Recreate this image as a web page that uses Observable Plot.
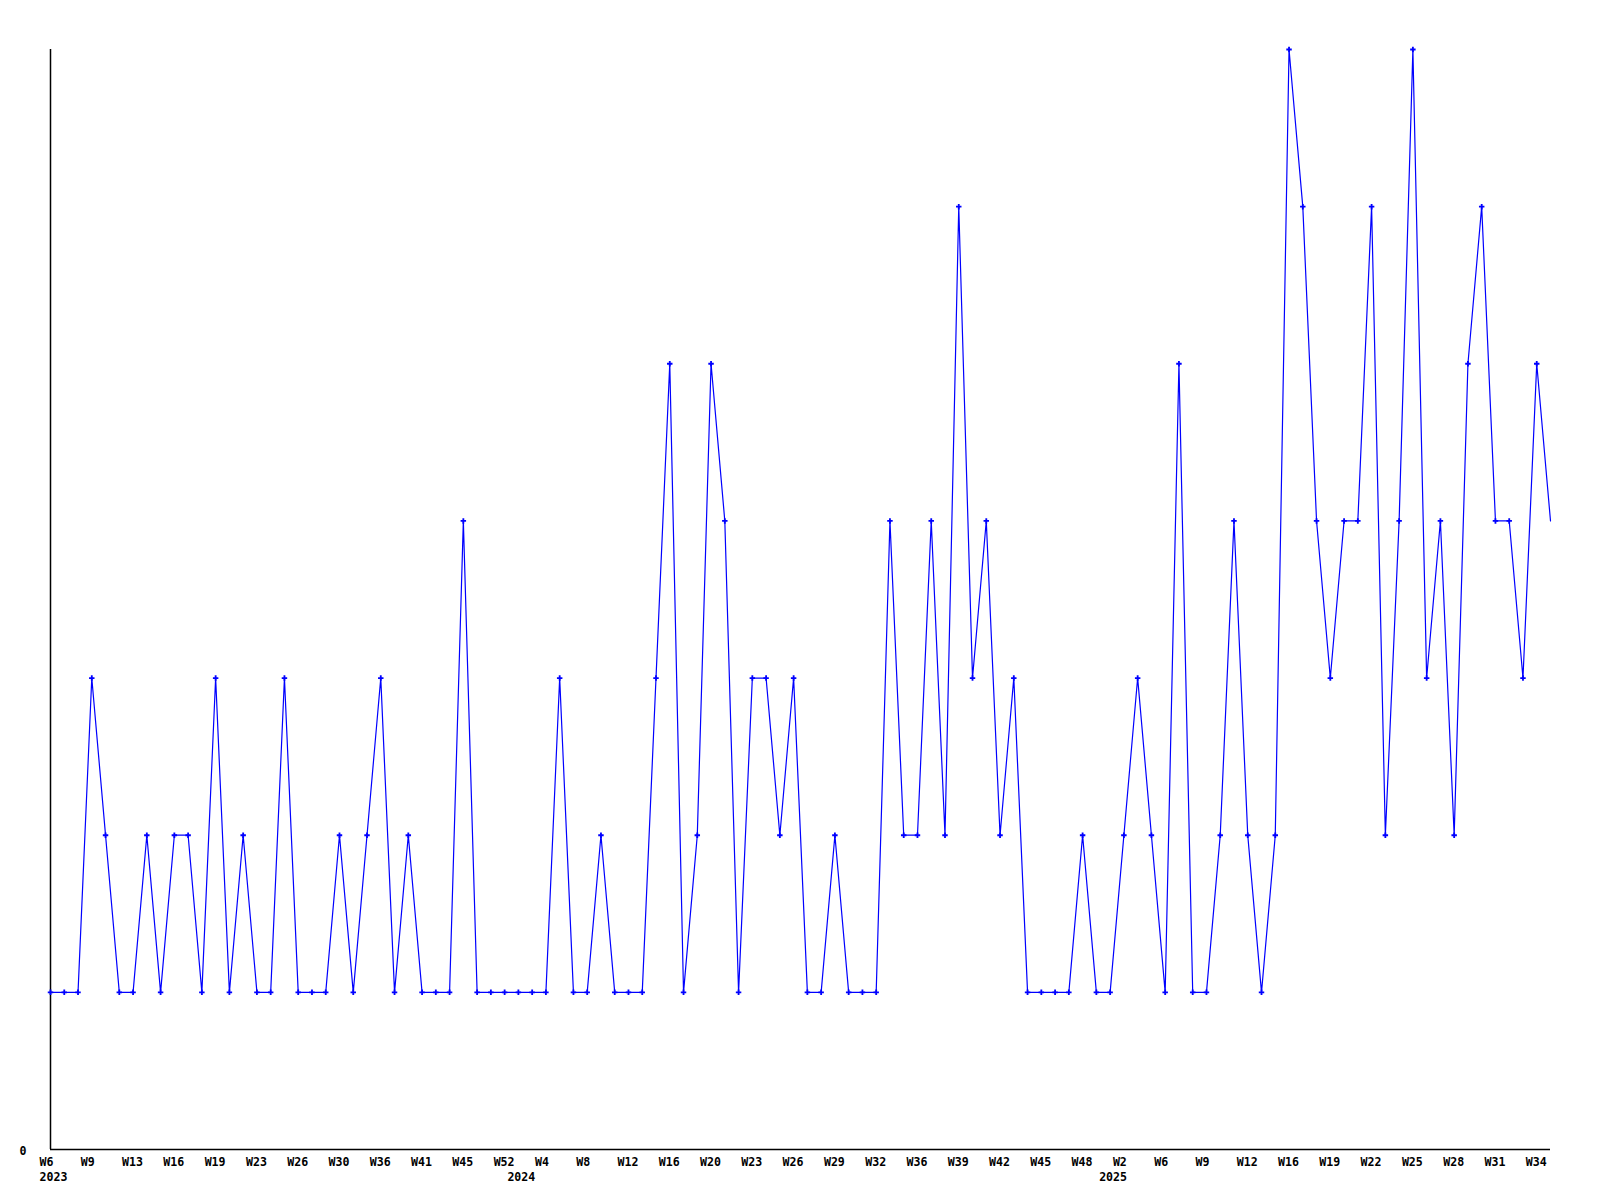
<!DOCTYPE html>
<html>
<head>
<meta charset="utf-8">
<script src="https://cdn.jsdelivr.net/npm/d3@7"></script>
<script src="https://cdn.jsdelivr.net/npm/@observablehq/plot@0.6"></script>
<style>
  html, body { margin: 0; padding: 0; background: #ffffff; }
  #chart svg { display: block; }
</style>
</head>
<body>
<div id="chart"></div>
<script>
// Weeks that have data (weeks without data are absent from the series)
const weekLabels = [
  "2023-W06","2023-W07","2023-W08","2023-W09","2023-W10","2023-W11","2023-W13","2023-W14","2023-W15","2023-W16",
  "2023-W17","2023-W18","2023-W19","2023-W20","2023-W22","2023-W23","2023-W24","2023-W25","2023-W26","2023-W27",
  "2023-W28","2023-W30","2023-W32","2023-W34","2023-W36","2023-W38","2023-W39","2023-W41","2023-W42","2023-W43",
  "2023-W45","2023-W47","2023-W50","2023-W52","2024-W01","2024-W03","2024-W04","2024-W05","2024-W07","2024-W08",
  "2024-W09","2024-W10","2024-W12","2024-W13","2024-W15","2024-W16","2024-W17","2024-W18","2024-W20","2024-W21",
  "2024-W22","2024-W23","2024-W24","2024-W25","2024-W26","2024-W27","2024-W28","2024-W29","2024-W30","2024-W31",
  "2024-W32","2024-W33","2024-W35","2024-W36","2024-W37","2024-W38","2024-W39","2024-W40","2024-W41","2024-W42",
  "2024-W43","2024-W44","2024-W45","2024-W46","2024-W47","2024-W48","2024-W50","2025-W01","2025-W02","2025-W03",
  "2025-W05","2025-W06","2025-W07","2025-W08","2025-W09","2025-W10","2025-W11","2025-W12","2025-W13","2025-W15",
  "2025-W16","2025-W17","2025-W18","2025-W19","2025-W20","2025-W21","2025-W22","2025-W23","2025-W24","2025-W25",
  "2025-W26","2025-W27","2025-W28","2025-W29","2025-W30","2025-W31","2025-W32","2025-W33","2025-W34","2025-W35"
];

const counts = [
  1,1,1,3,2,1,1,2,1,2,
  2,1,3,1,2,1,1,3,1,1,
  1,2,1,2,3,1,2,1,1,1,
  4,1,1,1,1,1,1,3,1,1,
  2,1,1,1,3,5,1,2,5,4,
  1,3,3,2,3,1,1,2,1,1,
  1,4,2,2,4,2,6,3,4,2,
  3,1,1,1,1,2,1,1,2,3,
  2,1,5,1,1,2,4,2,1,2,
  7,6,4,3,4,4,6,2,4,7,
  3,4,2,5,6,4,4,3,5,4
];

// Tick labels shown on the x axis
const tickWeeks = [
  "2023-W06","2023-W09","2023-W13","2023-W16","2023-W19","2023-W23","2023-W26","2023-W30","2023-W36","2023-W41",
  "2023-W45","2023-W52","2024-W04","2024-W08","2024-W12","2024-W16","2024-W20","2024-W23","2024-W26","2024-W29",
  "2024-W32","2024-W36","2024-W39","2024-W42","2024-W45","2024-W48","2025-W02","2025-W06","2025-W09","2025-W12",
  "2025-W16","2025-W19","2025-W22","2025-W25","2025-W28","2025-W31","2025-W34"
];

// Year labels, placed under the first week of each year
const yearWeeks = ["2023-W06", "2024-W01", "2025-W01"];
const yearNames = ["2023", "2024", "2025"];

// Y axis tick values
const yTicks = [0];

const data = weekLabels.map((w, i) => ({week: w, count: counts[i]}));
const ticks = tickWeeks.map(w => ({week: w, label: "W" + (+w.split("-W")[1])}));
const years = yearWeeks.map((w, i) => ({week: w, label: yearNames[i]}));

const font = "'DejaVu Sans Mono', 'Liberation Mono', monospace";

const chart = Plot.plot({
  width: 1600,
  height: 1200,
  marginTop: 49,
  marginRight: 50,
  marginBottom: 51,
  marginLeft: 50,
  style: {fontFamily: font, fontSize: "11.6px", fontWeight: "bold", color: "#000", background: "#fff"},
  x: {type: "point", domain: weekLabels, padding: 0, axis: null},
  y: {domain: [0, 7], axis: null},
  marks: [
    Plot.ruleY([0], {stroke: "#000", strokeWidth: 1.5}),
    Plot.ruleX([weekLabels[0]], {y1: 0, y2: 7, stroke: "#000", strokeWidth: 1.5}),
    Plot.text(yTicks, {x: () => weekLabels[0], y: d => d, text: d => String(d), textAnchor: "end", lineAnchor: "middle", dx: -24, dy: 2, fill: "#000"}),
    Plot.line(data, {x: "week", y: "count", stroke: "#0000ff", strokeWidth: 1.2}),
    Plot.dot(data.slice(0, -1), {x: "week", y: "count", symbol: "cross", r: 2.3, fill: "#0000ff", stroke: "none"}),
    Plot.text(ticks, {x: "week", y: 0, text: "label", textAnchor: "start", lineAnchor: "middle", dx: -11, dy: 13, fill: "#000"}),
    Plot.text(years, {x: "week", y: 0, text: "label", textAnchor: "start", lineAnchor: "middle", dx: -11, dy: 28, fill: "#000"})
  ]
});

document.getElementById("chart").appendChild(chart);
</script>
</body>
</html>
